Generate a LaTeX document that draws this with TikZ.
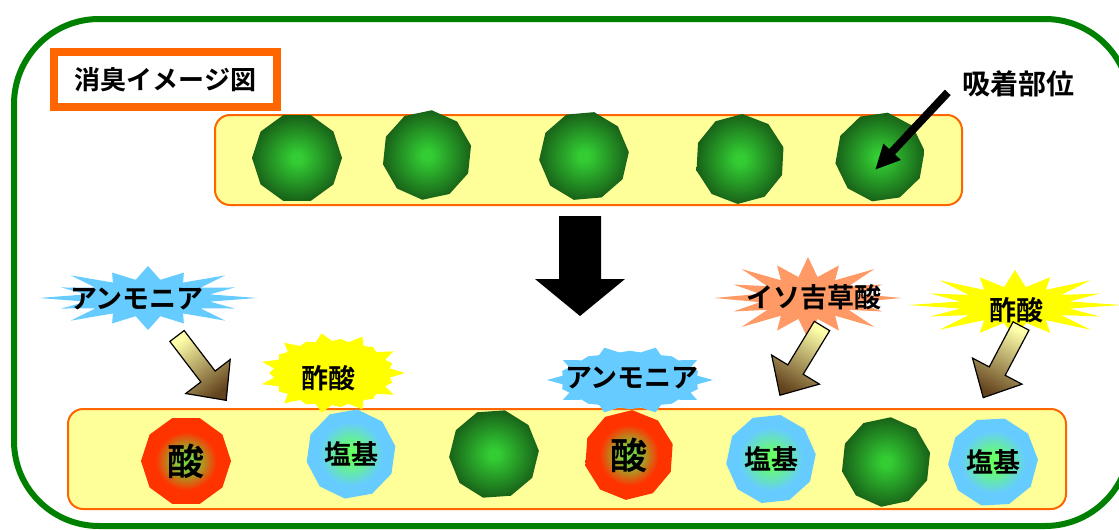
\documentclass[tikz,border=0pt]{standalone}
\usepackage{fontspec}
\setmainfont{Noto Sans CJK JP}[BoldFont={Noto Sans CJK JP Bold}]
\usetikzlibrary{shapes.geometric,arrows.meta}
\definecolor{frameg}{RGB}{0,128,0}
\definecolor{orng}{RGB}{255,102,0}
\definecolor{bandy}{RGB}{255,255,153}
\definecolor{skyb}{RGB}{102,204,255}
\definecolor{burstyel}{RGB}{255,255,0}
\definecolor{salmon}{RGB}{255,153,102}
\definecolor{gin}{RGB}{51,204,51}
\definecolor{gout}{RGB}{24,98,24}
\definecolor{acidin}{RGB}{120,215,60}
\definecolor{acidout}{RGB}{255,51,0}
\definecolor{basein}{RGB}{102,255,102}
\definecolor{baseout}{RGB}{102,204,255}
\definecolor{arrlight}{RGB}{255,255,170}
\definecolor{arrdark}{RGB}{100,68,30}
\pgfdeclareradialshading{siteshade}{\pgfpoint{0bp}{0bp}}{color(0bp)=(gin); color(3bp)=(gin); color(25bp)=(gout); color(50bp)=(gout)}
\pgfdeclareradialshading{acidshade}{\pgfpoint{0bp}{0bp}}{color(0bp)=(acidin); color(4bp)=(acidin); color(17bp)=(acidout); color(50bp)=(acidout)}
\pgfdeclareradialshading{baseshade}{\pgfpoint{0bp}{0bp}}{color(0bp)=(basein); color(4bp)=(basein); color(18bp)=(baseout); color(50bp)=(baseout)}
\tikzset{
  band/.style={draw=orng, line width=2pt, fill=bandy, rounded corners=15pt, inner sep=0pt},
  site/.style={regular polygon, regular polygon sides=10, minimum size=90pt, inner sep=0pt, shade, shading=siteshade},
  acid/.style={site, shading=acidshade, font=\bfseries\fontsize{37}{40}\selectfont},
  basic/.style={site, shading=baseshade, font=\bfseries\fontsize{27}{30}\selectfont},
  lbl/.style={font=\bfseries\fontsize{27}{30}\selectfont, inner sep=1pt},
  blockarrow/.style={draw=black, line width=1.2pt, top color=arrlight, bottom color=arrdark},
}
% #1 cx, #2 cy, #3 rx, #4 ry, #5 inner ratio, #6 points, #7 last index (2n-1), #8 colour
\newcommand\burstshape[8]{%
  \fill[#8] plot[samples at={0,...,#7}, variable=\k]
    ({#1+ifthenelse(mod(\k,2)==0,ifthenelse(mod(\k,4)==0,1,0.86),#5)*#3*cos(\k*180/#6)},
     {#2+ifthenelse(mod(\k,2)==0,ifthenelse(mod(\k,4)==0,1,0.86),#5)*#4*sin(\k*180/#6)}) -- cycle;}
% #1 tail coordinate, #2 direction, #3 shading angle
\newcommand\blockarr[3]{%
  \begin{scope}[shift={(#1)}, rotate=#2]
    \shade[blockarrow, shading angle=#3] (0,-9) -- (51,-9) -- (51,-28) -- (81,0) -- (51,28) -- (51,9) -- (0,9) -- cycle;
  \end{scope}}
\begin{document}
\begin{tikzpicture}[x=1pt,y=-1pt]
\useasboundingbox (0,0) rectangle (1119,530);
% outer frame
\draw[frameg, line width=6pt, rounded corners=85pt] (14,19) rectangle (1130,526);
% title
\node[draw=orng, line width=8pt, minimum width=223pt, minimum height=55pt, inner sep=0pt,
      font=\bfseries\fontsize{26}{30}\selectfont] (title) at (165.5,79.5) {消臭イメージ図};
% top band
\node[band, minimum width=747pt, minimum height=90pt] (topband) at (588.5,160) {};
\node[site] (t1) at (297,158) {};
\node[site, shape border rotate=12] (t2) at (427,155) {};
\node[site, shape border rotate=5] (t3) at (584,156) {};
\node[site, shape border rotate=15] (t4) at (740,159) {};
\node[site, shape border rotate=8] (t5) at (880,157) {};
\node[lbl, font=\bfseries\fontsize{28}{30}\selectfont] (siteLbl) at (1018,84) {吸着部位};
\draw[line width=8pt, -{Triangle[length=25pt,width=22pt]}]
  ([shift={(-13,-6)}]siteLbl.south west) -- ([shift={(-5,13)}]t5.center);
% big down arrow
\fill[black] (559,216) -- (601,216) -- (601,279) -- (625,279) -- (580,316) -- (535,279) -- (559,279) -- cycle;
% bursts above
\burstshape{148}{298}{109}{32}{0.58}{16}{31}{skyb}
\node[lbl] (ammA) at (137,299) {アンモニア};
\burstshape{808}{298}{94}{41}{0.52}{16}{31}{salmon}
\node[lbl] (iso) at (814,297) {イソ吉草酸};
\burstshape{1015}{305}{107}{35}{0.52}{16}{31}{burstyel}
\node[lbl] (aceR) at (1016,310) {酢酸};
% block arrows
\coordinate (tailA) at (177,336);
\coordinate (tailB) at (822,326);
\coordinate (tailC) at (1021,326);
\blockarr{tailA}{-52.6}{37.4}
\blockarr{tailB}{-121.3}{-31.3}
\blockarr{tailC}{-117.8}{-27.8}
% bottom band
\node[band, minimum width=998pt, minimum height=100pt] (botband) at (567,459) {};
\burstshape{332}{373}{73}{40}{0.8}{22}{43}{burstyel}
\node[lbl] (aceL) at (328,378) {酢酸};
\burstshape{630}{380}{83}{34}{0.82}{20}{39}{skyb}
\node[lbl] (ammB) at (632,378) {アンモニア};
% bottom sites
\node[acid] (b1) at (186,461) {酸};
\node[basic, shape border rotate=10] (b2) at (351,454) {塩基};
\node[site, shape border rotate=4] (b3) at (494,454) {};
\node[acid, shape border rotate=14] (b4) at (629,455) {酸};
\node[basic, shape border rotate=6] (b5) at (771,459) {塩基};
\node[site, shape border rotate=12] (b6) at (886,462) {};
\node[basic, shape border rotate=3] (b7) at (993,462) {塩基};
\end{tikzpicture}
\end{document}
